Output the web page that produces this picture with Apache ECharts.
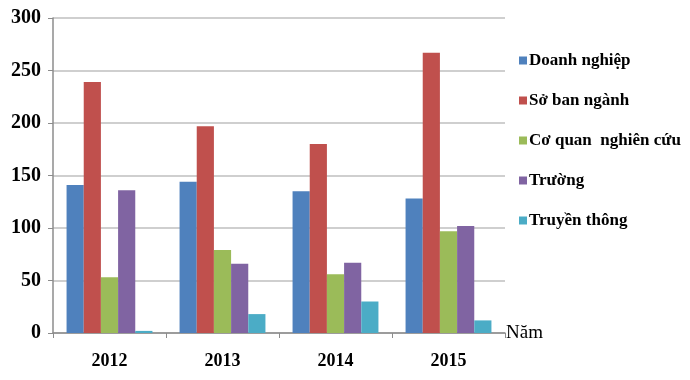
<!DOCTYPE html>
<html><head><meta charset="utf-8">
<script src="https://cdn.jsdelivr.net/npm/echarts@6/dist/echarts.min.js"></script>
<style>html,body{margin:0;padding:0;background:#fff}#c{width:690px;height:380px}</style>
</head><body><div id="c"></div>
<script>
const years = ['2012','2013','2014','2015'];
const seriesNames = ['Doanh nghiệp','Sở ban ngành','Cơ quan  nghiên cứu','Trường','Truyền thông'];
const doanhNghiep = [141, 144, 135, 128];
const soBanNganh = [239, 197, 180, 267];
const coQuan = [53, 79, 56, 97];
const truong = [136, 66, 67, 102];
const truyenThong = [2, 18, 30, 12];
const yTicks = [0, 50, 100, 150, 200, 250, 300];
const colors = ['#4F81BD','#C0504D','#9BBB59','#8064A2','#4BACC6'];
const values = [doanhNghiep, soBanNganh, coQuan, truong, truyenThong];
const font = '"Liberation Serif", "Times New Roman", serif';

const chart = echarts.init(document.getElementById('c'));
chart.setOption({
  animation: false,
  color: colors,
  grid: {left: 53, right: 185, top: 18, bottom: 47, containLabel: false},
  legend: {
    orient: 'vertical', left: 514, top: 47, itemGap: 23,
    itemWidth: 8, itemHeight: 8, icon: 'rect',
    textStyle: {fontFamily: font, fontWeight: 'bold', fontSize: 17, color: '#000', padding: [0,0,0,-3]},
    data: seriesNames
  },
  xAxis: {
    type: 'category', data: years,
    name: 'Năm', nameLocation: 'end', nameGap: 1,
    nameTextStyle: {fontFamily: font, fontSize: 19, color: '#000', verticalAlign: 'middle', padding: [4,0,0,0]},
    axisLine: {lineStyle: {color: '#8C8C8C', width: 1.5}},
    axisTick: {show: true, length: 5, lineStyle: {color: '#8C8C8C'}},
    axisLabel: {fontFamily: font, fontWeight: 'bold', fontSize: 18, color: '#000', margin: 19}
  },
  yAxis: {
    type: 'value', min: yTicks[0], max: yTicks[yTicks.length-1], interval: 50,
    axisLine: {show: true, lineStyle: {color: '#8C8C8C', width: 1.5}},
    axisTick: {show: true, length: 5, lineStyle: {color: '#8C8C8C'}},
    splitLine: {lineStyle: {color: '#BFBFBF', width: 1.5}},
    axisLabel: {fontFamily: font, fontWeight: 'bold', fontSize: 20, color: '#000', margin: 12}
  },
  series: seriesNames.map((n, i) => ({
    name: n, type: 'bar', data: values[i],
    barGap: '0%', barCategoryGap: '24%',
    itemStyle: {color: colors[i]}
  }))
});
</script></body></html>
